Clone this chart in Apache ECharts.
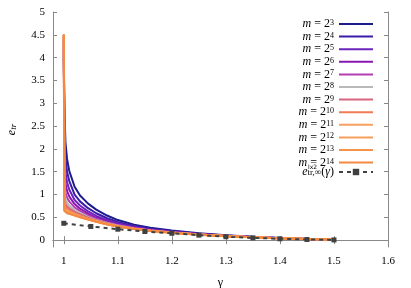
<!DOCTYPE html>
<html><head><meta charset="utf-8">
<script src="https://cdn.jsdelivr.net/npm/echarts@6/dist/echarts.min.js"></script>
<style>html,body{margin:0;padding:0;background:#fff}#c{width:411px;height:288px}</style>
</head><body><div id="c"></div>
<script>
const gammaGrid = [1.0, 1.001, 1.003, 1.006, 1.01, 1.02, 1.03, 1.045, 1.06, 1.08, 1.1, 1.13, 1.16, 1.2, 1.25, 1.3, 1.35, 1.4, 1.45, 1.5];
const exponents = [3,4,5,6,7,8,9,10,11,12,13,14];
const e_m8     = [4.0, 2.9, 2.15, 1.78, 1.52, 1.17, 0.98, 0.80, 0.67, 0.54, 0.44, 0.34, 0.27, 0.21, 0.15, 0.105, 0.072, 0.047, 0.028, 0.014];
const e_m16    = [4.2, 2.5, 1.8, 1.5, 1.3, 1.0, 0.85, 0.70, 0.59, 0.48, 0.40, 0.31, 0.25, 0.195, 0.14, 0.1, 0.069, 0.045, 0.027, 0.013];
const e_m32    = [4.3, 2.1, 1.5, 1.27, 1.11, 0.88, 0.76, 0.63, 0.53, 0.44, 0.365, 0.29, 0.235, 0.185, 0.135, 0.097, 0.067, 0.044, 0.026, 0.013];
const e_m64    = [4.4, 1.7, 1.25, 1.08, 0.96, 0.79, 0.69, 0.58, 0.49, 0.41, 0.345, 0.275, 0.225, 0.178, 0.13, 0.094, 0.065, 0.043, 0.026, 0.012];
const e_m128   = [4.45, 1.4, 1.05, 0.93, 0.85, 0.72, 0.64, 0.54, 0.465, 0.39, 0.33, 0.265, 0.218, 0.173, 0.127, 0.092, 0.064, 0.042, 0.025, 0.012];
const e_m256   = [4.5, 1.15, 0.9, 0.82, 0.76, 0.66, 0.6, 0.51, 0.445, 0.375, 0.32, 0.258, 0.213, 0.17, 0.125, 0.091, 0.063, 0.042, 0.025, 0.012];
const e_m512   = [4.5, 0.95, 0.8, 0.74, 0.7, 0.62, 0.565, 0.49, 0.43, 0.365, 0.312, 0.253, 0.21, 0.168, 0.124, 0.09, 0.063, 0.041, 0.025, 0.012];
const e_m1024  = [4.5, 0.82, 0.72, 0.68, 0.65, 0.59, 0.54, 0.475, 0.42, 0.358, 0.307, 0.25, 0.208, 0.166, 0.123, 0.089, 0.062, 0.041, 0.024, 0.012];
const e_m2048  = [4.5, 0.74, 0.67, 0.64, 0.62, 0.57, 0.525, 0.465, 0.413, 0.353, 0.303, 0.248, 0.206, 0.165, 0.122, 0.089, 0.062, 0.041, 0.024, 0.012];
const e_m4096  = [4.5, 0.69, 0.64, 0.62, 0.6, 0.555, 0.515, 0.458, 0.408, 0.35, 0.3, 0.246, 0.205, 0.164, 0.122, 0.088, 0.062, 0.041, 0.024, 0.012];
const e_m8192  = [4.5, 0.66, 0.62, 0.6, 0.585, 0.545, 0.508, 0.453, 0.404, 0.347, 0.298, 0.245, 0.204, 0.164, 0.121, 0.088, 0.061, 0.041, 0.024, 0.012];
const e_m16384 = [4.5, 0.64, 0.61, 0.59, 0.575, 0.538, 0.503, 0.45, 0.401, 0.345, 0.297, 0.244, 0.203, 0.163, 0.121, 0.088, 0.061, 0.04, 0.024, 0.012];
const limitGamma = [1.0, 1.05, 1.1, 1.15, 1.2, 1.25, 1.3, 1.35, 1.4, 1.45, 1.5];
const limitValues = [0.37, 0.30, 0.24, 0.19, 0.15, 0.11, 0.075, 0.05, 0.03, 0.015, 0.005];
const xTicks = [1, 1.1, 1.2, 1.3, 1.4, 1.5, 1.6];
const yTicks = [0, 0.5, 1, 1.5, 2, 2.5, 3, 3.5, 4, 4.5, 5];

const curves = [e_m8, e_m16, e_m32, e_m64, e_m128, e_m256, e_m512, e_m1024, e_m2048, e_m4096, e_m8192, e_m16384];
const colors = ['#1c1c8c', '#3c1ca8', '#6c24bc', '#8a18b0', '#b43cb4', '#b8b8b8', '#d9657e', '#f07a55', '#f9a062', '#f7a05c', '#f5924c', '#f38a40'];
const FONT = '"Liberation Serif", "DejaVu Serif", serif';

const series = curves.map((vals, i) => ({
  name: 'm' + exponents[i],
  type: 'line',
  symbol: 'none',
  data: gammaGrid.map((g, j) => [g, vals[j]]),
  lineStyle: { width: 2, color: colors[i] },
  itemStyle: { color: colors[i] },
  animation: false
}));
series.push({
  name: 'limit',
  type: 'line',
  symbol: 'rect',
  symbolSize: 5,
  data: limitGamma.map((g, j) => [g, limitValues[j]]),
  lineStyle: { width: 2, color: '#404040', type: [4, 4] },
  itemStyle: { color: '#404040' },
  animation: false
});

const richStyles = {
  i: { fontFamily: FONT, fontStyle: 'italic', fontSize: 12, lineHeight: 10, color: '#000' },
  t: { fontFamily: FONT, fontSize: 12, lineHeight: 10, color: '#000' },
  sup: { fontFamily: FONT, fontSize: 8, lineHeight: 6, verticalAlign: 'top', color: '#000' },
  sub: { fontFamily: FONT, fontSize: 9, lineHeight: 2, verticalAlign: 'bottom', padding: [8, 0, 0, 0], color: '#000' }
};
const legendText = { color: '#000', fontFamily: FONT, fontSize: 11, lineHeight: 10, rich: richStyles };

const axisColor = '#888888';
const chart = echarts.init(document.getElementById('c'), null, { renderer: 'canvas' });
chart.setOption({
  animation: false,
  grid: { left: 53, right: 23, top: 12, bottom: 41, containLabel: false, outerBoundsMode: 'none' },
  xAxis: [{
    type: 'value', min: 0.98, max: 1.6,
    name: 'γ', nameLocation: 'middle', nameGap: 30,
    nameTextStyle: { fontFamily: FONT, fontSize: 12, color: '#000' },
    axisLine: { lineStyle: { color: axisColor, width: 1 } },
    axisTick: { inside: true, length: 4, customValues: xTicks, lineStyle: { color: axisColor } },
    axisLabel: { customValues: xTicks, margin: 9, fontFamily: FONT, fontSize: 11, color: '#000', formatter: v => String(+v.toFixed(1)) },
    splitLine: { show: false }
  }, {
    type: 'value', min: 0.98, max: 1.6, position: 'top',
    axisLine: { lineStyle: { color: axisColor, width: 1 } },
    axisTick: { inside: true, length: 4, customValues: xTicks, lineStyle: { color: axisColor } },
    axisLabel: { show: false }, splitLine: { show: false }
  }],
  yAxis: [{
    type: 'value', min: -0.15, max: 5,
    name: '{e|e}{s|tr}', nameLocation: 'middle', nameGap: 35, nameRotate: 90,
    nameTextStyle: { rich: { e: { fontFamily: FONT, fontStyle: 'italic', fontSize: 12, color: '#000' }, s: { fontFamily: FONT, fontStyle: 'italic', fontSize: 9, color: '#000', verticalAlign: 'bottom', padding: [4, 0, 0, 0] } } },
    axisLine: { show: true, lineStyle: { color: axisColor, width: 1 } },
    axisTick: { show: true, inside: true, length: 4, customValues: yTicks, lineStyle: { color: axisColor } },
    axisLabel: { customValues: yTicks, margin: 8, fontFamily: FONT, fontSize: 11, color: '#000', formatter: v => String(+v.toFixed(1)) },
    splitLine: { show: false }
  }, {
    type: 'value', min: -0.15, max: 5, position: 'right',
    axisLine: { show: true, lineStyle: { color: axisColor, width: 1 } },
    axisTick: { show: true, inside: true, length: 4, customValues: yTicks, lineStyle: { color: axisColor } },
    axisLabel: { show: false }, splitLine: { show: false }
  }],
  legend: [{
    orient: 'vertical', right: 32, top: 13, align: 'right',
    itemWidth: 34, itemHeight: 8, itemGap: 0.6,
    backgroundColor: '#fff',
    data: series.filter(s => s.name !== 'limit').map(s => ({ name: s.name, itemStyle: { opacity: 0 } })),
    formatter: name => '{i|m}{t| = 2}{sup|' + name.slice(1) + '}',
    textStyle: legendText
  }, {
    orient: 'vertical', right: 32, top: 155, align: 'right',
    itemWidth: 34, itemHeight: 8,
    data: [{ name: 'limit' }],
    formatter: () => '{i|e}{sub|tr,∞}{t|(}{i|γ}{t|)}',
    textStyle: legendText
  }],
  graphic: [{
    id: 'lx2', type: 'text', left: 308, top: 164, z: 100,
    style: { text: 'lx2', font: '6px "DejaVu Sans", sans-serif', fill: '#000' }
  }],
  series: series
});
</script>
</body></html>
